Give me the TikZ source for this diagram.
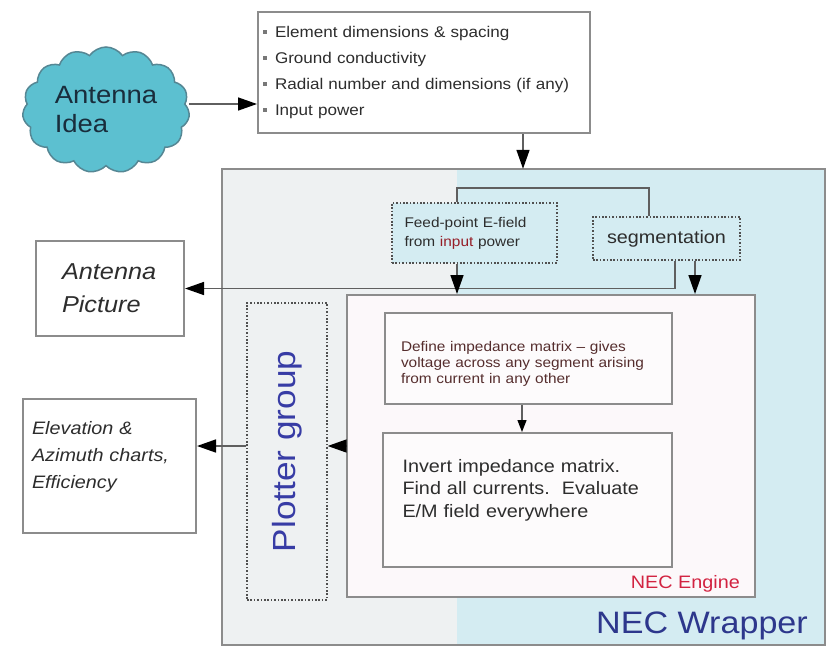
\documentclass[tikz,border=0pt]{standalone}
\usepackage{fontspec}
\setmainfont{Liberation Sans}[FakeStretch=1.1]
\usetikzlibrary{shapes.symbols,arrows.meta,calc}

\definecolor{cloudfill}{RGB}{92,192,208}
\definecolor{cloudline}{RGB}{85,135,148}
\definecolor{cloudtxt}{RGB}{25,45,60}
\definecolor{cyanbg}{RGB}{212,236,242}
\definecolor{graybg}{RGB}{238,241,242}
\definecolor{engfill}{RGB}{252,248,250}
\definecolor{boxfill}{RGB}{253,251,252}
\definecolor{boxline}{RGB}{140,140,140}
\definecolor{dotline}{RGB}{80,80,80}
\definecolor{lineg}{RGB}{95,95,95}
\definecolor{txt}{RGB}{45,45,45}
\definecolor{deftxt}{RGB}{85,45,45}
\definecolor{redtxt}{RGB}{150,30,40}
\definecolor{engred}{RGB}{210,35,65}
\definecolor{plotblue}{RGB}{55,60,165}
\definecolor{wrapblue}{RGB}{45,55,140}
\definecolor{bulc}{RGB}{120,120,120}

\newcommand{\bul}{\makebox[12pt][l]{\color{bulc}\rule[4pt]{4pt}{4pt}}}

\begin{document}
\begin{tikzpicture}[x=1pt,y=-1pt,
  box/.style={draw=boxline, line width=2pt, fill=white, inner sep=0pt, text=txt},
  dotbox/.style={draw=dotline, line width=1.3pt, dash pattern=on 1.6pt off 1.8pt, inner sep=0pt, text=txt},
  lbl/.style={inner sep=0pt, text=txt},
  conn/.style={draw=lineg, line width=1.6pt},
  arr/.style={draw=lineg, line width=1.5pt, -{Triangle[length=19pt,width=13pt,color=black]}},
  arrs/.style={draw=lineg, line width=1.3pt, -{Triangle[length=12pt,width=9pt,color=black]}}]

\useasboundingbox[fill=white] (0,0) rectangle (829,648);

% NEC wrapper background
\node[fill=graybg, minimum width=603pt, minimum height=476pt, inner sep=0pt] (wrap) at (523.5,407) {};
\fill[cyanbg] (457,169) rectangle (825,645);
\draw[boxline, line width=2.5pt] (wrap.north west) rectangle (wrap.south east);

% cloud
\node[cloud, cloud puffs=15, cloud puff arc=110, aspect=1.35, draw=cloudline, line width=1.5pt,
      fill=cloudfill, minimum width=167pt, minimum height=126pt, inner sep=0pt, align=left,
      font=\fontsize{25}{29}\selectfont, text=cloudtxt] (cloud) at (106,110) {Antenna\\Idea};

% inputs
\node[box, minimum width=332pt, minimum height=121pt, text width=322pt, align=left,
      font=\fontsize{15.5}{26}\selectfont] (inp) at (424,72.5)
  {\bul Element dimensions \& spacing\\ \bul Ground conductivity\\
   \bul Radial number and dimensions (if any)\\ \bul Input power};

% feed point and segmentation
\node[dotbox, fill=cyanbg, minimum width=165pt, minimum height=60pt, text width=140pt, align=left,
      font=\fontsize{14}{19}\selectfont] (feed) at (474.5,233)
  {Feed-point E-field\\from {\color{redtxt}input} power};
\node[dotbox, fill=cyanbg, minimum width=147pt, minimum height=43pt,
      font=\fontsize{18}{22}\selectfont] (seg) at (666.5,238.5) {segmentation};

% NEC engine
\node[box, fill=engfill, minimum width=408pt, minimum height=302pt] (eng) at (551,446) {};
\node[anchor=base east, inner sep=0pt, text=engred, font=\fontsize{18}{22}\selectfont] (engl) at (740,588) {NEC Engine};

\node[box, fill=boxfill, minimum width=287pt, minimum height=91pt] (def) at (528.5,358.5) {};
\node[lbl, text=deftxt, text width=255pt, align=left, font=\fontsize{14}{16}\selectfont] (deft)
  at ([yshift=-5pt]def.center)
  {Define impedance matrix -- gives\\ voltage across any segment arising\\ from current in any other};

\node[box, fill=boxfill, minimum width=289pt, minimum height=134pt] (inv) at (527.5,500) {};
\node[lbl, text width=250pt, align=left, font=\fontsize{18}{22.5}\selectfont] (invt)
  at ([yshift=10pt]inv.center)
  {Invert impedance matrix.\\ Find all currents.\ \ Evaluate\\ E/M field everywhere};

% plotter group
\node[dotbox, minimum width=80pt, minimum height=297pt, text=plotblue,
      font=\fontsize{32}{36}\selectfont] (plot) at (287,451.5) {\rotatebox{90}{Plotter group}};

% outputs
\node[box, minimum width=148pt, minimum height=95pt, text width=96pt, align=left,
      font=\itshape\fontsize{23}{33}\selectfont] (apic) at (110,288.5) {Antenna\\Picture};
\node[box, minimum width=173pt, minimum height=134pt] (elev) at (109.5,466) {};
\node[lbl, text width=155pt, align=left, font=\itshape\fontsize{18}{27}\selectfont] (elevt)
  at ([yshift=9pt]elev.center) {Elevation \&\\ Azimuth charts,\\ Efficiency};

\node[anchor=base east, inner sep=0pt, text=wrapblue, font=\fontsize{31}{36}\selectfont] (wrapl)
  at (808,633) {NEC Wrapper};

% connectors
\coordinate (c1) at ([yshift=6pt]cloud.east);
\draw[arr] (c1) -- (c1 -| inp.west);

\coordinate (i1) at ([xshift=99pt]inp.south);
\draw[arr] (i1) -- (i1 |- wrap.north);

\coordinate (f1) at ([xshift=-17.5pt]feed.north);
\coordinate (s1) at ([xshift=-17.5pt]seg.north);
\coordinate (br) at (0,188);
\draw[conn] (f1) -- (f1 |- br) -| (s1);

\coordinate (s2) at ([xshift=8.5pt]seg.south);
\draw[arr] (s2) |- (apic.east);

\coordinate (f2) at ([xshift=-17.5pt]feed.south);
\draw[arr] (f2) -- (f2 |- eng.north);

\coordinate (s3) at ([xshift=28.5pt]seg.south);
\draw[arr] (s3) -- (s3 |- eng.north);

\coordinate (d1) at ([xshift=-6.5pt]def.south);
\draw[arrs] (d1) -- (d1 |- inv.north);

\draw[arr] (eng.west) -- (eng.west -| plot.east);
\coordinate (p1) at (eng.west -| plot.west);
\draw[arr] (p1) -- (p1 -| elev.east);
\end{tikzpicture}
\end{document}
